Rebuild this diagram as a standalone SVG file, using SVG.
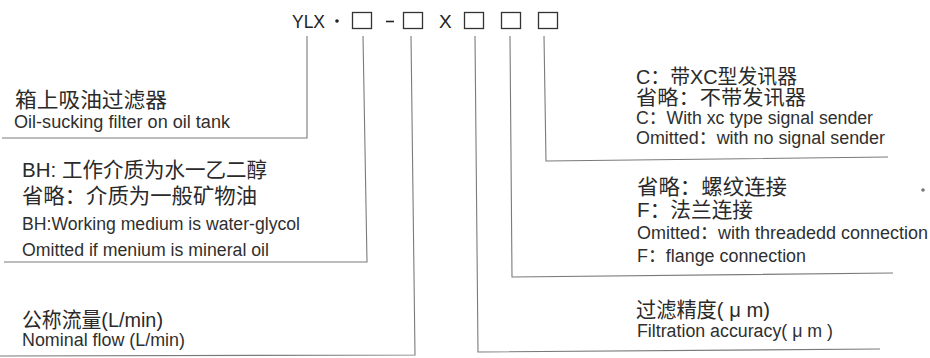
<svg xmlns="http://www.w3.org/2000/svg" width="930" height="358" viewBox="0 0 930 358">
<style>
.cn{font-family:"Liberation Sans","Noto Sans CJK SC",sans-serif;font-size:21px;fill:#2a2a2a}
.en{font-family:"Liberation Sans","Noto Sans CJK SC",sans-serif;font-size:18px;fill:#2f2f2f}
.ti{font-family:"Liberation Sans",sans-serif;font-size:19px;fill:#222}
.box{fill:none;stroke:#333;stroke-width:1.3}
.ln{fill:none;stroke:#7a7a7a;stroke-width:1.1}
</style>
<rect width="930" height="358" fill="#ffffff"/>
<g id="code">
<text class="ti" x="292" y="28" textLength="33" lengthAdjust="spacingAndGlyphs">YLX</text>
<circle cx="337" cy="21" r="1.8" fill="#222"/>
<rect class="box" x="352.5" y="12.5" width="19" height="16"/>
<line x1="386" y1="21.5" x2="394" y2="21.5" stroke="#222" stroke-width="1.6"/>
<rect class="box" x="403.5" y="12.5" width="19" height="16"/>
<text class="ti" x="439" y="28">X</text>
<rect class="box" x="464.5" y="12.5" width="19" height="16"/>
<rect class="box" x="501.5" y="12.5" width="19" height="16"/>
<rect class="box" x="538.5" y="12.5" width="19" height="16"/>
</g>
<g id="connectors">
<path class="ln" d="M307,36 L307,138 L2,138"/>
<path class="ln" d="M363,36 L367,262 L4,262"/>
<path class="ln" d="M411,36 L415,355 L0,356"/>
<path class="ln" d="M475,36 L478,352 L880,349"/>
<path class="ln" d="M510,36 L512,277 L893,273"/>
<path class="ln" d="M544,36 L546,161 L888,157"/>
</g>
<g id="node-type">
<text class="cn" x="15" y="107" textLength="152" lengthAdjust="spacingAndGlyphs">箱上吸油过滤器</text>
<text class="en" x="14" y="128" textLength="216" lengthAdjust="spacingAndGlyphs">Oil-sucking filter on oil tank</text>
</g>
<g id="node-medium">
<text class="cn" x="22" y="177" textLength="245" lengthAdjust="spacingAndGlyphs">BH: 工作介质为水一乙二醇</text>
<text class="cn" x="22" y="203" textLength="235" lengthAdjust="spacingAndGlyphs">省略：介质为一般矿物油</text>
<text class="en" x="22" y="230" textLength="278" lengthAdjust="spacingAndGlyphs">BH:Working medium is water-glycol</text>
<text class="en" x="22" y="256" textLength="247" lengthAdjust="spacingAndGlyphs">Omitted if menium is mineral oil</text>
</g>
<g id="node-flow">
<text class="cn" x="22" y="327" textLength="141" lengthAdjust="spacingAndGlyphs">公称流量(L/min)</text>
<text class="en" x="22" y="346" textLength="163" lengthAdjust="spacingAndGlyphs">Nominal flow (L/min)</text>
</g>
<g id="node-signal">
<text class="cn" x="636" y="84" style="font-size:20px" textLength="161" lengthAdjust="spacingAndGlyphs">C：带XC型发讯器</text>
<text class="cn" x="636" y="105" style="font-size:20px" textLength="170" lengthAdjust="spacingAndGlyphs">省略：不带发讯器</text>
<text class="en" x="636" y="124" textLength="237" lengthAdjust="spacingAndGlyphs">C：With xc type signal sender</text>
<text class="en" x="636" y="144" textLength="249" lengthAdjust="spacingAndGlyphs">Omitted：with no signal sender</text>
</g>
<g id="node-connection">
<text class="cn" x="637" y="194" textLength="150" lengthAdjust="spacingAndGlyphs">省略：螺纹连接</text>
<text class="cn" x="637" y="217" textLength="116" lengthAdjust="spacingAndGlyphs">F：法兰连接</text>
<text class="en" x="637" y="239" textLength="291" lengthAdjust="spacingAndGlyphs">Omitted：with threadedd connection</text>
<text class="en" x="637" y="262" textLength="169" lengthAdjust="spacingAndGlyphs">F：flange connection</text>
</g>
<g id="node-accuracy">
<text class="cn" x="636" y="317" textLength="134" lengthAdjust="spacingAndGlyphs">过滤精度( μ m)</text>
<text class="en" x="637" y="337" textLength="196" lengthAdjust="spacingAndGlyphs">Filtration accuracy( μ m )</text>
</g>
<circle cx="923" cy="190" r="1.8" fill="#777"/>
</svg>
